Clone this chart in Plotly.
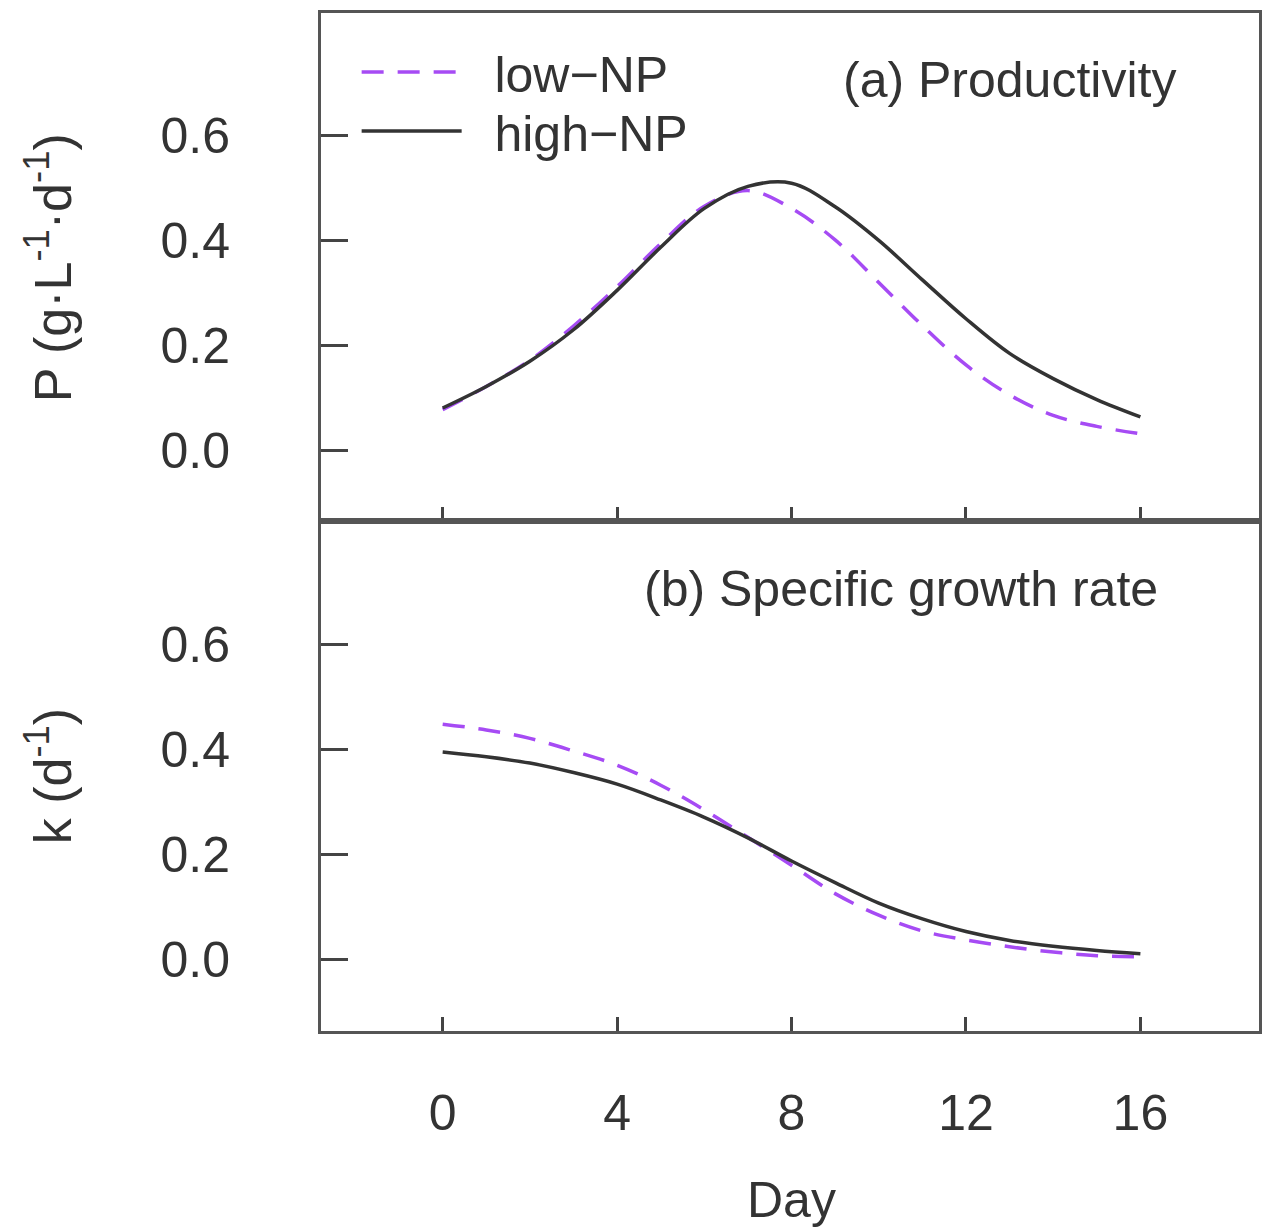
import plotly.graph_objects as go

days = list(range(0, 17))

P_low = [0.078, 0.122, 0.172, 0.237, 0.312, 0.394, 0.465, 0.495, 0.461, 0.401, 0.320, 0.238, 0.163, 0.106, 0.067, 0.046, 0.032]
P_high = [0.081, 0.122, 0.170, 0.230, 0.305, 0.387, 0.461, 0.503, 0.509, 0.464, 0.400, 0.325, 0.251, 0.185, 0.137, 0.097, 0.064]

k_low = [0.448, 0.437, 0.421, 0.397, 0.370, 0.332, 0.285, 0.233, 0.180, 0.126, 0.085, 0.055, 0.038, 0.025, 0.015, 0.008, 0.006]
k_high = [0.395, 0.386, 0.374, 0.356, 0.334, 0.304, 0.271, 0.232, 0.188, 0.147, 0.108, 0.078, 0.054, 0.037, 0.026, 0.018, 0.012]

x_ticks = [0, 4, 8, 12, 16]
x_ticktext = ["0", "4", "8", "12", "16"]
y_ticks = [0.0, 0.2, 0.4, 0.6]
y_ticktext = ["0.0", "0.2", "0.4", "0.6"]

series_names = ["low\u2212NP", "high\u2212NP"]
panel_titles = ["(a) Productivity", "(b) Specific growth rate"]
y_titles = ["P (g\u00b7L<sup>-1</sup>\u00b7d<sup>-1</sup>)", "k (d<sup>-1</sup>)"]
x_title = "Day"

PURPLE = "#a64bf4"
DARK = "#333333"
FONT = "Liberation Sans, Arial, sans-serif"
PAD = "\u00a0\u00a0"

fig = go.Figure()
fig.add_trace(go.Scatter(x=days, y=P_low, mode="lines", name=PAD + series_names[0], legend="legend",
                         line=dict(color=PURPLE, width=3.5, dash="22px,14px", shape="spline"), xaxis="x", yaxis="y"))
fig.add_trace(go.Scatter(x=days, y=P_high, mode="lines", name=PAD + series_names[1], legend="legend2",
                         line=dict(color=DARK, width=3.5, shape="spline"), xaxis="x", yaxis="y"))
fig.add_trace(go.Scatter(x=days, y=k_low, mode="lines", showlegend=False,
                         line=dict(color=PURPLE, width=3.5, dash="22px,14px", shape="spline"), xaxis="x2", yaxis="y2"))
fig.add_trace(go.Scatter(x=days, y=k_high, mode="lines", showlegend=False,
                         line=dict(color=DARK, width=3.5, shape="spline"), xaxis="x2", yaxis="y2"))

xr = [-2.79, 18.72]
yr = [-0.135, 0.833]
split = 0.5005

common_ax = dict(showline=True, linecolor="#555555", linewidth=3, mirror=True, showgrid=False, zeroline=False,
                 ticks="inside", tickcolor="#444444", tickwidth=3, tickfont=dict(size=50))

leg_common = dict(xanchor="left", yanchor="middle", bgcolor="rgba(0,0,0,0)",
                  font=dict(size=50, family=FONT, color=DARK), itemwidth=100)

fig.update_layout(
    width=1265, height=1228,
    margin=dict(l=321, r=3, t=13, b=197),
    plot_bgcolor="white", paper_bgcolor="white",
    font=dict(family=FONT, size=50, color=DARK),
    xaxis=dict(domain=[0, 1], range=xr, anchor="y", tickvals=x_ticks, ticktext=x_ticktext, showticklabels=False, ticklen=14, **common_ax),
    yaxis=dict(domain=[split, 1], range=yr, anchor="x", tickvals=y_ticks, ticktext=y_ticktext, ticklen=27, ticklabelstandoff=78, **common_ax),
    xaxis2=dict(domain=[0, 1], range=xr, anchor="y2", tickvals=x_ticks, ticktext=x_ticktext, ticklen=14, ticklabelstandoff=36, **common_ax),
    yaxis2=dict(domain=[0, split], range=yr, anchor="x2", tickvals=y_ticks, ticktext=y_ticktext, ticklen=27, ticklabelstandoff=78, **common_ax),
    showlegend=True,
    legend=dict(x=0.038, y=0.942, **leg_common),
    legend2=dict(x=0.038, y=0.884, **leg_common),
)

annos = [
    dict(text=panel_titles[0], x=13.0, y=0.705, xref="x", yref="y", xanchor="center", yanchor="middle", showarrow=False, font=dict(size=50)),
    dict(text=panel_titles[1], x=10.5, y=0.705, xref="x2", yref="y2", xanchor="center", yanchor="middle", showarrow=False, font=dict(size=50)),
    dict(text=y_titles[0], x=-0.29, y=(split + 1) / 2, xref="paper", yref="paper", xanchor="center", yanchor="middle",
         textangle=-90, showarrow=False, font=dict(size=52)),
    dict(text=y_titles[1], x=-0.29, y=split / 2, xref="paper", yref="paper", xanchor="center", yanchor="middle",
         textangle=-90, showarrow=False, font=dict(size=52)),
    dict(text=x_title, x=8, y=-0.166, xref="x2", yref="paper", xanchor="center", yanchor="middle", showarrow=False, font=dict(size=50)),
]
fig.update_layout(annotations=annos)

fig.write_html("out.html", config={"displayModeBar": False}, post_script="document.body.style.margin='0';")
